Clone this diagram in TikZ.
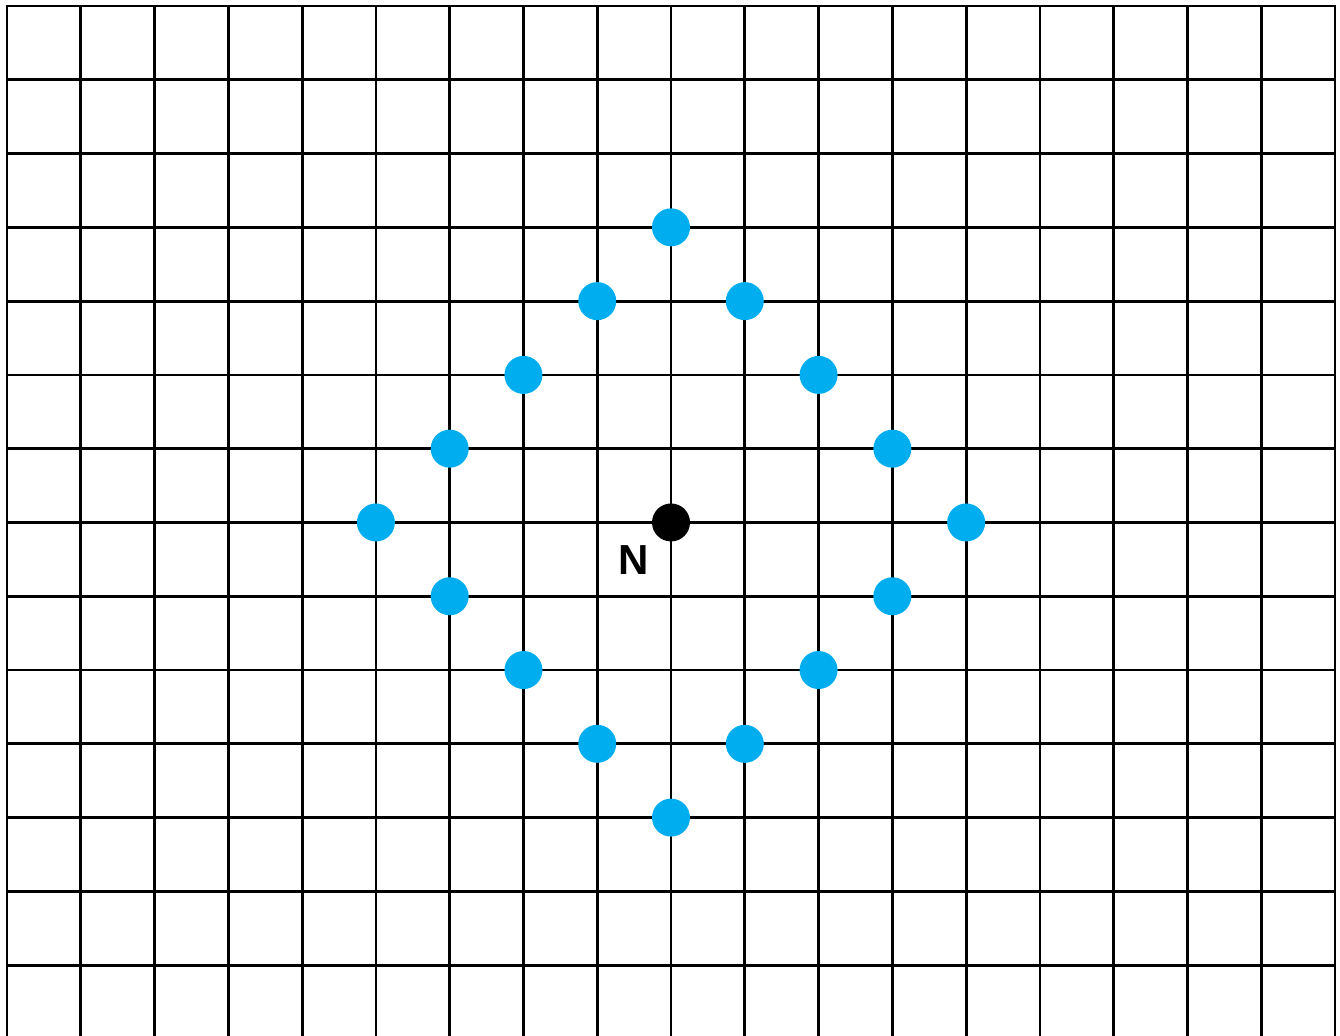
\documentclass[tikz,border=0pt]{standalone}
\usepackage{fontspec}
\setmainfont{Liberation Sans}
\definecolor{dotblue}{HTML}{00AEEF}
\begin{document}
\begin{tikzpicture}[x=0.5pt,y=-0.5pt,
  gridline/.style={line width=1.4pt,black},
  bluedot/.style={circle,fill=dotblue,inner sep=0pt,minimum size=19pt},
  centerdot/.style={circle,fill=black,inner sep=0pt,minimum size=19pt},
  lbl/.style={font=\bfseries\fontsize{21}{24}\selectfont}]
\useasboundingbox (0,0) rectangle (1340,1035);
\def\sx{73.78}
\foreach \k in {0,...,18}{
  \draw[gridline] ({7+\k*\sx},6) -- ({7+\k*\sx},1040);
}
\foreach \k in {0,...,13}{
  \draw[gridline] (6,{6+\k*\sx}) -- (1336,{6+\k*\sx});
}
\foreach \dx/\dy [count=\i] in {0/-4,-1/-3,1/-3,-2/-2,2/-2,-3/-1,3/-1,-4/0,4/0,-3/1,3/1,-2/2,2/2,-1/3,1/3,0/4}{
  \node[bluedot] (b\i) at ({7+(9+\dx)*\sx},{6+(7+\dy)*\sx}) {};
}
\node[centerdot] (n) at ({7+9*\sx},{6+7*\sx}) {};
\node[lbl] (nl) at (634,560) {N};
\end{tikzpicture}
\end{document}
